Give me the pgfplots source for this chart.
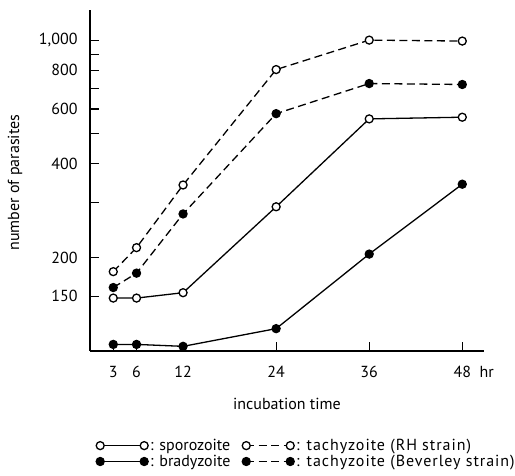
\documentclass[border=0pt]{standalone}
\usepackage{pgfplots}
\pgfplotsset{compat=1.18}
\usepackage{fontspec}
\setmainfont{PT Sans}
\begin{document}
\begin{tikzpicture}
\begin{axis}[
    name=ax,
    scale only axis,
    width=394bp, height=341bp,
    axis lines=left,
    axis line style={-, line width=1.6bp},
    clip=false,
    xmin=0, xmax=50.8,
    ymode=log, ymin=100, ymax=1250,
    xtick={3,6,12,24,36,48},
    xticklabels={3,6,12,24,36,{48\rlap{\ \ hr}}},
    ytick={150,200,300,400,500,600,700,800,900,1000},
    yticklabels={150,200,{},400,{},600,{},800,{},{1,000}},
    minor ytick={},
    tick align=inside,
    major tick length=9bp,
    tick style={line width=1.2bp, black},
    xticklabel style={font=\fontsize{16bp}{18bp}\selectfont, yshift=-12bp},
    yticklabel style={font=\fontsize{16bp}{18bp}\selectfont, xshift=-9bp},
    xlabel={incubation time},
    ylabel={number of parasites},
    xlabel style={font=\fontsize{16bp}{18bp}\selectfont, at={(axis description cs:0.5,0)}, anchor=center, yshift=-53bp},
    ylabel style={font=\fontsize{16bp}{18bp}\selectfont, at={(axis description cs:-0.19,0.494)}, anchor=center},
    every axis plot/.append style={line width=1.3bp, black, mark size=4bp},
    legend columns=2,
    transpose legend,
    legend style={at={(0,0)}, anchor=north west, xshift=6bp, yshift=-86bp,
        draw=none, fill=none, inner sep=0pt, row sep=-1bp,
        font=\fontsize{16bp}{17bp}\selectfont},
    legend cell align=left,
    legend image code/.code={\draw[#1] plot coordinates {(0bp,0bp) (44bp,0bp)};},
]
\addplot[mark=*, mark options={solid, fill=white, draw=black}] coordinates {
    (3,148) (6,148) (12,154) (24,291) (36,558) (48,565)};
\addlegendentry{: sporozoite\hspace*{10bp}}
\addplot[mark=*, mark options={solid, fill=black}] coordinates {
    (3,105) (6,105) (12,103.5) (24,118) (36,205) (48,344)};
\addlegendentry{: bradyzoite}
\addplot[mark=*, dash pattern=on 8bp off 4.5bp, mark options={solid, fill=white, draw=black}] coordinates {
    (3,180) (6,215) (12,342) (24,804) (36,1000) (48,993)};
\addlegendentry{\addfontfeature{LetterSpace=6}: tachyzoite (RH strain)}
\addplot[mark=*, dash pattern=on 8bp off 4.5bp, mark options={solid, fill=black}] coordinates {
    (3,160) (6,178) (12,276) (24,580) (36,725) (48,720)};
\addlegendentry{\addfontfeature{LetterSpace=6}: tachyzoite (Beverley strain)}
\end{axis}
\pgfresetboundingbox
\path ([xshift=-90bp,yshift=-125bp]ax.south west) rectangle ([xshift=425bp,yshift=351bp]ax.south west);
\end{tikzpicture}
\end{document}
